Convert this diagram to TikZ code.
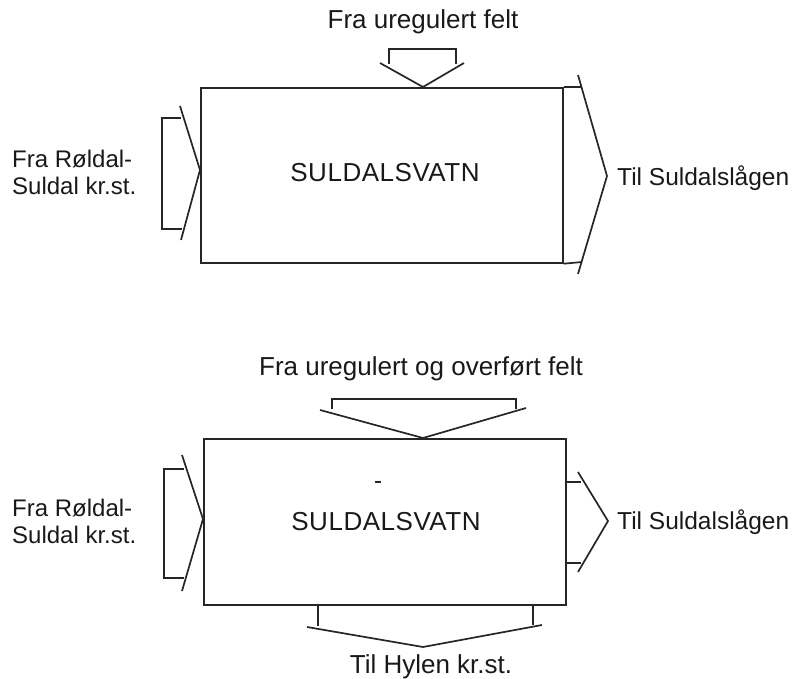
\documentclass[tikz,border=0pt]{standalone}
\usepackage{fontspec}
\setmainfont{Liberation Sans}
\begin{document}
\begin{tikzpicture}[x=1pt,y=-1pt,
  ln/.style={line width=1.7pt, line join=miter, color=black!85},
  lbl/.style={font=\fontsize{24}{27}\selectfont, inner sep=0pt, text=black!90},
  big/.style={lbl, font=\fontsize{26}{28}\selectfont},
  lakename/.style={lbl, font=\fontsize{26}{28}\selectfont\addfontfeature{LetterSpace=2}},
  lake/.style={ln, draw, rectangle, anchor=north west, inner sep=0pt}]
\useasboundingbox (0,0) rectangle (798,679);

% ---------- Top diagram ----------
\node[lake, minimum width=362pt, minimum height=175pt] (box1) at (200,87) {};
\node[lakename] (name1) at (385,173) {SULDALSVATN};
% outflow right
\coordinate (o1a) at (582,87);
\coordinate (o1b) at (582,262);
\draw[ln] (box1.north east) -- (o1a);
\draw[ln] (box1.south east) -- (o1b);
\draw[ln] (578,75) -- (607,176) coordinate (o1tip) -- (578,274);
\node[lbl, font=\fontsize{24.5}{27}\selectfont, anchor=west] (out1) at (617,178) {Til Suldalslågen};
% inflow top
\draw[ln] (389,64) -- (389,49) -- (456,49) -- (456,64);
\draw[ln] (380,63) -- (423,87) coordinate (t1tip) -- (464,63);
\node[big] (in1) at (423,22) {Fra uregulert felt};
% inflow left
\draw[ln] (181,118) -- (162,118) -- (162,229) -- (182,229);
\draw[ln] (180,106) -- (200,170) coordinate (l1tip) -- (181,240);
\node[lbl, align=left, anchor=west] (src1) at (12,172) {Fra Røldal-\\Suldal kr.st.};

% ---------- Bottom diagram ----------
\node[lake, minimum width=362pt, minimum height=166pt] (box2) at (203,438) {};
\node[lakename] (name2) at (386,522) {SULDALSVATN};
\draw[ln, line width=1.2pt] (375,482) -- (381,482);
% inflow top
\draw[ln] (332,409) -- (332,399) -- (516,399) -- (516,409);
\draw[ln] (320,410) -- (423,438) coordinate (t2tip) -- (526,408);
\node[big] (in2) at (421,369) {Fra uregulert og overført felt};
% inflow left
\draw[ln] (184,469) -- (164,469) -- (164,578) -- (184,578);
\draw[ln] (182,455) -- (203,519) coordinate (l2tip) -- (182,591);
\node[lbl, align=left, anchor=west] (src2) at (12,521) {Fra Røldal-\\Suldal kr.st.};
% outflow right
\draw[ln] (565,482) -- (581,482);
\draw[ln] (565,563) -- (581,563);
\draw[ln] (578,472) -- (608,521) coordinate (o2tip) -- (578,572);
\node[lbl, font=\fontsize{24.5}{27}\selectfont, anchor=west] (out2) at (617,522) {Til Suldalslågen};
% outflow bottom
\draw[ln] (318,604) -- (318,626);
\draw[ln] (533,604) -- (533,625);
\draw[ln] (307,627) -- (423,647) coordinate (b2tip) -- (542,625);
\node[big] (out3) at (431,667) {Til Hylen kr.st.};
\end{tikzpicture}
\end{document}
